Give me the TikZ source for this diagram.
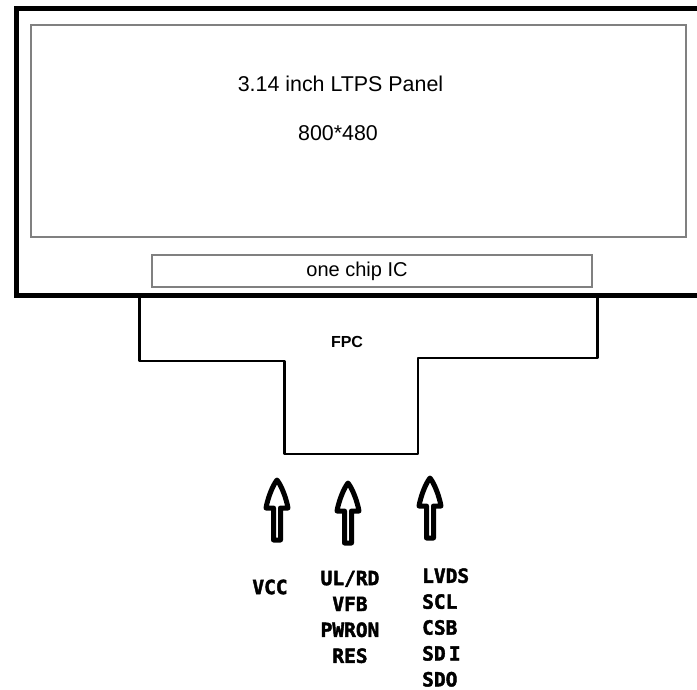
\documentclass[tikz,border=0pt]{standalone}
\usepackage{fontspec}
\setmainfont{Liberation Sans}
\newfontfamily\labelmono[FakeBold=2.2]{DejaVu Sans Mono Bold}
\tikzset{
  outerframe/.style={line width=5.5pt, draw=black},
  greybox/.style={line width=2pt, draw=black!50},
  fpcline/.style={line width=2.6pt, draw=black, line join=round},
  paneltext/.style={font=\fontsize{21.4}{25}\selectfont, inner sep=0pt},
  sigtext/.style={font=\labelmono\fontsize{19.5}{25.9}\selectfont, inner sep=0pt},
  hollowup/.pic={
    \draw[line width=5pt, line join=round, fill=white]
      (0,3) .. controls (4,8) and (9,20) .. (11,31) -- (3.5,31) -- (3.5,63) -- (-3.5,63) -- (-3.5,31) -- (-11,31) .. controls (-9,20) and (-4,8) .. (0,3) -- cycle;
  }
}
\begin{document}
\begin{tikzpicture}[x=1pt, y=-1pt]
\useasboundingbox (0,0) rectangle (697,690);
\fill[white] (0,0) rectangle (697,690);
% outer frame
\draw[outerframe] (705,8.5) -- (16.5,8.5) -- (16.5,295.5) -- (705,295.5);
% panel
\draw[greybox] (30.5,25.5) rectangle (685.5,237);
\node[paneltext] (title) at (340.5,84) {3.14 inch LTPS Panel};
\node[paneltext] (res) at (338,133) {800*480};
% IC
\draw[greybox] (151.5,255.5) rectangle (591.5,287);
\node[font=\fontsize{20}{24}\selectfont, inner sep=0pt] (ic) at (357,271) {one chip IC};
% FPC
\draw[fpcline] (139.5,298) -- (139.5,361) -- (284.5,361) -- (284.5,454) -- (418,454) -- (418,358) -- (597.5,358) -- (597.5,298);
\node[font=\bfseries\fontsize{16}{19}\selectfont, inner sep=0pt] (fpc) at (347,342) {FPC};
% arrows
\pic at (277,477) {hollowup};
\pic at (348,480) {hollowup};
\pic at (430,475) {hollowup};
% labels
\node[sigtext] (vcc) at (270,587) {VCC};
\node[sigtext, align=center] (grp2) at (350,617) {UL/RD\\VFB\\PWRON\\RES};
\node[sigtext, align=left, anchor=west] (grp3) at (422,627.5) {LVDS\\SCL\\CSB\\SD\,I\\SDO};
\end{tikzpicture}
\end{document}
